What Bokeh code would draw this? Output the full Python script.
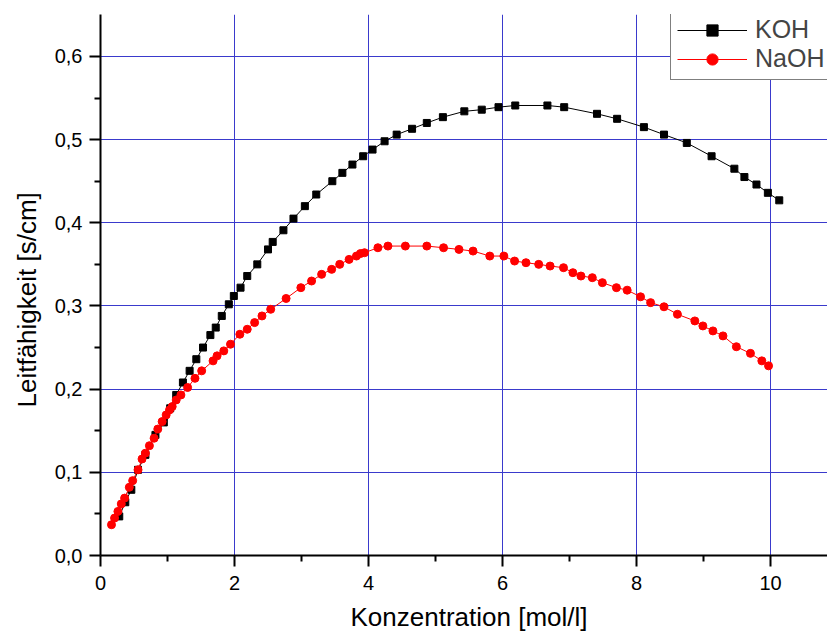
from bokeh.plotting import figure
from bokeh.models import (FixedTicker, CustomJSTickFormatter, Title, Legend, LegendItem,
                          Range1d, ColumnDataSource)
from bokeh.embed import file_html
from bokeh.resources import INLINE

# ---- data ----
koh_x = [0.28, 0.37, 0.46, 0.56, 0.67, 0.82, 0.945, 1.04, 1.13, 1.23, 1.33, 1.43, 1.53, 1.64,
         1.72, 1.81, 1.915, 1.99, 2.09, 2.19, 2.34, 2.50, 2.57, 2.73, 2.88, 3.05, 3.22, 3.46,
         3.61, 3.76, 3.92, 4.06, 4.24, 4.42, 4.65, 4.87, 5.11, 5.43, 5.69, 5.94, 6.19, 6.67,
         6.92, 7.41, 7.71, 8.11, 8.41, 8.75, 9.12, 9.46, 9.61, 9.79, 9.96, 10.13]
koh_y = [0.047, 0.064, 0.079, 0.103, 0.121, 0.145, 0.160, 0.177, 0.193, 0.208, 0.222, 0.236,
         0.250, 0.265, 0.274, 0.288, 0.302, 0.312, 0.322, 0.336, 0.350, 0.368, 0.377, 0.391,
         0.405, 0.420, 0.434, 0.450, 0.460, 0.470, 0.480, 0.488, 0.498, 0.506, 0.513, 0.520,
         0.527, 0.534, 0.536, 0.539, 0.541, 0.541, 0.539, 0.531, 0.525, 0.515, 0.506, 0.496,
         0.480, 0.465, 0.455, 0.446, 0.436, 0.427]

naoh_x = [0.164, 0.21, 0.26, 0.31, 0.36, 0.43, 0.48, 0.56, 0.62, 0.67, 0.73, 0.80, 0.855, 0.92,
          0.98, 1.03, 1.07, 1.13, 1.20, 1.30, 1.41, 1.51, 1.68, 1.74, 1.84, 1.94, 2.08, 2.19,
          2.30, 2.41, 2.54, 2.77, 2.99, 3.15, 3.30, 3.45, 3.57, 3.71, 3.82, 3.88, 3.94, 4.14,
          4.29, 4.55, 4.87, 5.12, 5.35, 5.56, 5.81, 6.02, 6.18, 6.35, 6.54, 6.71, 6.91, 7.05,
          7.17, 7.34, 7.49, 7.70, 7.86, 8.06, 8.21, 8.41, 8.61, 8.87, 8.99, 9.14, 9.29, 9.49,
          9.70, 9.87, 9.97]
naoh_y = [0.037, 0.045, 0.053, 0.062, 0.069, 0.082, 0.090, 0.103, 0.116, 0.123, 0.132, 0.141,
          0.152, 0.161, 0.169, 0.175, 0.179, 0.187, 0.193, 0.202, 0.213, 0.222, 0.234, 0.240,
          0.246, 0.254, 0.266, 0.272, 0.280, 0.288, 0.296, 0.309, 0.322, 0.330, 0.338, 0.344,
          0.350, 0.356, 0.360, 0.363, 0.364, 0.370, 0.372, 0.372, 0.372, 0.370, 0.368, 0.366,
          0.360, 0.360, 0.354, 0.352, 0.350, 0.348, 0.346, 0.340, 0.336, 0.334, 0.328, 0.322,
          0.319, 0.311, 0.304, 0.299, 0.290, 0.282, 0.276, 0.270, 0.264, 0.251, 0.243, 0.234,
          0.228]

x_major = [0, 2, 4, 6, 8, 10]
x_minor = [1, 3, 5, 7, 9]
y_major = [0.0, 0.1, 0.2, 0.3, 0.4, 0.5, 0.6]
y_minor = [0.05, 0.15, 0.25, 0.35, 0.45, 0.55]

x_title = "Konzentration [mol/l]"
y_title = "Leitfähigkeit [s/cm]"
series_names = ["KOH", "NaOH"]

FONT = "Liberation Sans"
GRID = "#3a3acc"

p = figure(width=827, height=639, output_backend="svg", toolbar_location=None,
           x_range=Range1d(0, 10.85), y_range=Range1d(0, 0.6504),
           min_border_left=100, min_border_right=0, min_border_top=14, min_border_bottom=83)
p.outline_line_color = None
p.background_fill_color = "white"
p.border_fill_color = "white"

# axes
for ax in (p.xaxis[0], p.yaxis[0]):
    ax.axis_line_width = 2
    ax.axis_line_color = "black"
    ax.major_tick_line_width = 2
    ax.minor_tick_line_width = 2
    ax.major_tick_in = 0
    ax.major_tick_out = 11
    ax.minor_tick_in = 0
    ax.minor_tick_out = 6
    ax.major_label_text_font = FONT
    ax.major_label_text_font_size = "20px"
    ax.major_label_text_color = "black"

p.xaxis[0].ticker = FixedTicker(ticks=x_major, minor_ticks=x_minor)
p.yaxis[0].ticker = FixedTicker(ticks=y_major, minor_ticks=y_minor)
p.xaxis[0].formatter = CustomJSTickFormatter(code="return tick.toFixed(0);")
p.yaxis[0].formatter = CustomJSTickFormatter(code="return tick.toFixed(1).replace('.', ',');")
p.xaxis[0].major_label_standoff = 9
p.yaxis[0].major_label_standoff = 7

# grid
p.xgrid[0].ticker = FixedTicker(ticks=x_major)
p.ygrid[0].ticker = FixedTicker(ticks=y_major)
for g in (p.xgrid[0], p.ygrid[0]):
    g.grid_line_color = GRID
    g.grid_line_width = 1

# series
src_k = ColumnDataSource(dict(x=koh_x, y=koh_y))
src_n = ColumnDataSource(dict(x=naoh_x, y=naoh_y))
lk = p.line("x", "y", source=src_k, line_color="black", line_width=1)
mk = p.scatter("x", "y", source=src_k, marker="square", size=7, fill_color="black",
               line_color="black")
ln = p.line("x", "y", source=src_n, line_color="red", line_width=1)
mn = p.scatter("x", "y", source=src_n, marker="circle", size=8, fill_color="red",
               line_color="red")

legend = Legend(items=[LegendItem(label=series_names[0], renderers=[lk, mk]),
                       LegendItem(label=series_names[1], renderers=[ln, mn])],
                location=(570, 475), orientation="vertical")
legend.border_line_color = "black"
legend.border_line_width = 1
legend.background_fill_color = "white"
legend.background_fill_alpha = 1.0
legend.padding = 6
legend.spacing = 0
legend.margin = 0
legend.glyph_width = 70
legend.glyph_height = 28
legend.label_height = 28
legend.label_width = 95
legend.label_standoff = 8
legend.label_text_font = FONT
legend.label_text_font_size = "25px"
legend.label_text_baseline = "middle"
p.add_layout(legend, "center")

# axis titles
p.add_layout(Title(text=x_title, align="left", offset=250, standoff=15,
                   text_font=FONT, text_font_size="26px", text_font_style="normal",
                   text_color="black"), "below")
p.add_layout(Title(text=y_title, align="left", offset=148, standoff=19,
                   text_font=FONT, text_font_size="26px", text_font_style="normal",
                   text_color="black"), "left")

open("out.html", "w").write(file_html(p, INLINE))
